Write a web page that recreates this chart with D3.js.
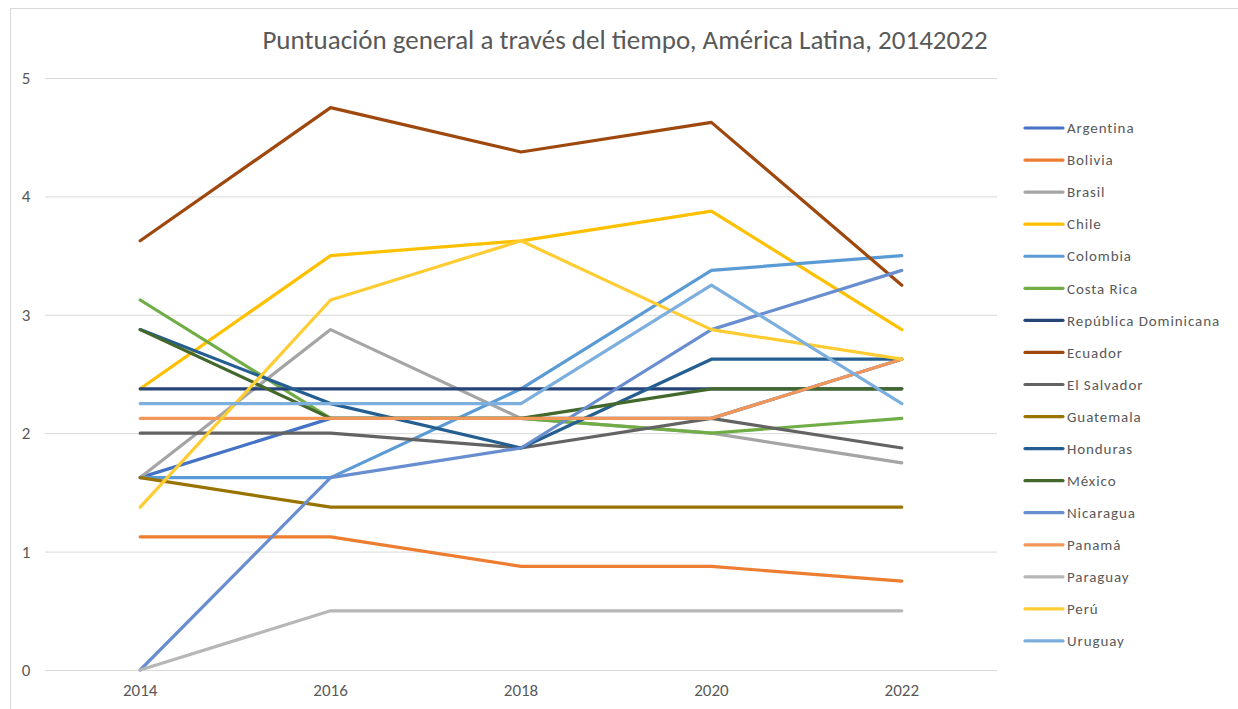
<!DOCTYPE html>
<html>
<head>
<meta charset="utf-8">
<script src="https://cdn.jsdelivr.net/npm/d3@7"></script>
<style>
  body { margin: 0; background: #fff; }
  svg text { font-family: Carlito, "Liberation Sans Narrow", "Liberation Sans", sans-serif; }
</style>
</head>
<body>
<div id="chart"></div>
<script>
// data
const years = ['2014', '2016', '2018', '2020', '2022'];
const countries = ['Argentina', 'Bolivia', 'Brasil', 'Chile', 'Colombia', 'Costa Rica',
  'República Dominicana', 'Ecuador', 'El Salvador', 'Guatemala', 'Honduras', 'México',
  'Nicaragua', 'Panamá', 'Paraguay', 'Perú', 'Uruguay'];
const argentina = [1.625, 2.125, 2.125, 2.125, 2.625];
const bolivia = [1.125, 1.125, 0.875, 0.875, 0.75];
const brasil = [1.625, 2.875, 2.125, 2.0, 1.75];
const chile = [2.375, 3.5, 3.625, 3.875, 2.875];
const colombia = [1.625, 1.625, 2.375, 3.375, 3.5];
const costaRica = [3.125, 2.125, 2.125, 2.0, 2.125];
const repDominicana = [2.375, 2.375, 2.375, 2.375, 2.375];
const ecuador = [3.625, 4.75, 4.375, 4.625, 3.25];
const elSalvador = [2.0, 2.0, 1.875, 2.125, 1.875];
const guatemala = [1.625, 1.375, 1.375, 1.375, 1.375];
const honduras = [2.875, 2.25, 1.875, 2.625, 2.625];
const mexico = [2.875, 2.125, 2.125, 2.375, 2.375];
const nicaragua = [0, 1.625, 1.875, 2.875, 3.375];
const panama = [2.125, 2.125, 2.125, 2.125, 2.625];
const paraguay = [0, 0.5, 0.5, 0.5, 0.5];
const peru = [1.375, 3.125, 3.625, 2.875, 2.625];
const uruguay = [2.25, 2.25, 2.25, 3.25, 2.25];
const yTicks = [0, 1, 2, 3, 4, 5];

const seriesValues = [argentina, bolivia, brasil, chile, colombia, costaRica, repDominicana,
  ecuador, elSalvador, guatemala, honduras, mexico, nicaragua, panama, paraguay, peru, uruguay];
const colors = ['#4472C4', '#ED7D31', '#A5A5A5', '#FFC000', '#5B9BD5', '#70AD47',
  '#264478', '#9E480E', '#636363', '#997300', '#255E91', '#43682B',
  '#698ED0', '#F1975A', '#B7B7B7', '#FFCD33', '#7CAFDD'];

const series = countries.map((name, i) => ({
  name: name,
  color: colors[i],
  values: seriesValues[i].map((v, j) => ({ year: years[j], value: v }))
}));

const width = 1238, height = 709;
const plot = { left: 45, right: 997, top: 78, bottom: 670 };

const svg = d3.select('#chart')
  .append('svg')
  .attr('width', width)
  .attr('height', height);

// chart frame
svg.append('rect')
  .attr('x', 10.5).attr('y', 8.5)
  .attr('width', width).attr('height', height)
  .attr('fill', 'none')
  .attr('stroke', '#d9d9d9');

// scales
let x = d3.scalePoint()
  .domain(years)
  .range([plot.left, plot.right])
  .padding(0.5);

let y = d3.scaleLinear()
  .domain([0, 5])
  .range([plot.bottom, plot.top]);

// gridlines
svg.append('g')
  .selectAll('line')
  .data(yTicks)
  .enter()
  .append('line')
  .attr('x1', plot.left)
  .attr('x2', plot.right)
  .attr('y1', d => y(d) + 0.5)
  .attr('y2', d => y(d) + 0.5)
  .attr('stroke', '#d9d9d9')
  .attr('stroke-width', 1);

// y labels
svg.append('g')
  .selectAll('text')
  .data(yTicks)
  .enter()
  .append('text')
  .attr('x', 26)
  .attr('y', d => y(d))
  .attr('dy', '0.35em')
  .attr('text-anchor', 'middle')
  .attr('font-size', 17)
  .attr('fill', '#595959')
  .text(d => d);

// x labels
svg.append('g')
  .selectAll('text')
  .data(years)
  .enter()
  .append('text')
  .attr('x', d => x(d))
  .attr('y', 696)
  .attr('text-anchor', 'middle')
  .attr('font-size', 17)
  .attr('fill', '#595959')
  .text(d => d);

// lines
let lineGen = d3.line()
  .x(d => x(d.year))
  .y(d => y(d.value));

svg.append('g')
  .selectAll('path')
  .data(series)
  .enter()
  .append('path')
  .attr('d', d => lineGen(d.values))
  .attr('fill', 'none')
  .attr('stroke', d => d.color)
  .attr('stroke-width', 3.2)
  .attr('stroke-linejoin', 'round')
  .attr('stroke-linecap', 'round');

// title
svg.append('text')
  .attr('x', 625)
  .attr('y', 49)
  .attr('text-anchor', 'middle')
  .attr('font-size', 27)
  .attr('fill', '#595959')
  .text('Puntuación general a través del tiempo, América Latina, 20142022');

// legend
let legend = svg.append('g')
  .selectAll('g')
  .data(series)
  .enter()
  .append('g')
  .attr('transform', (d, i) => `translate(1025, ${128 + i * 32.06})`);

legend.append('line')
  .attr('x1', 0).attr('x2', 38)
  .attr('y1', 0).attr('y2', 0)
  .attr('stroke', d => d.color)
  .attr('stroke-width', 3.2)
  .attr('stroke-linecap', 'round');

legend.append('text')
  .attr('x', 42)
  .attr('y', 0)
  .attr('dy', '0.35em')
  .attr('font-size', 15)
  .attr('letter-spacing', 0.9)
  .attr('fill', '#595959')
  .text(d => d.name);
</script>
</body>
</html>
